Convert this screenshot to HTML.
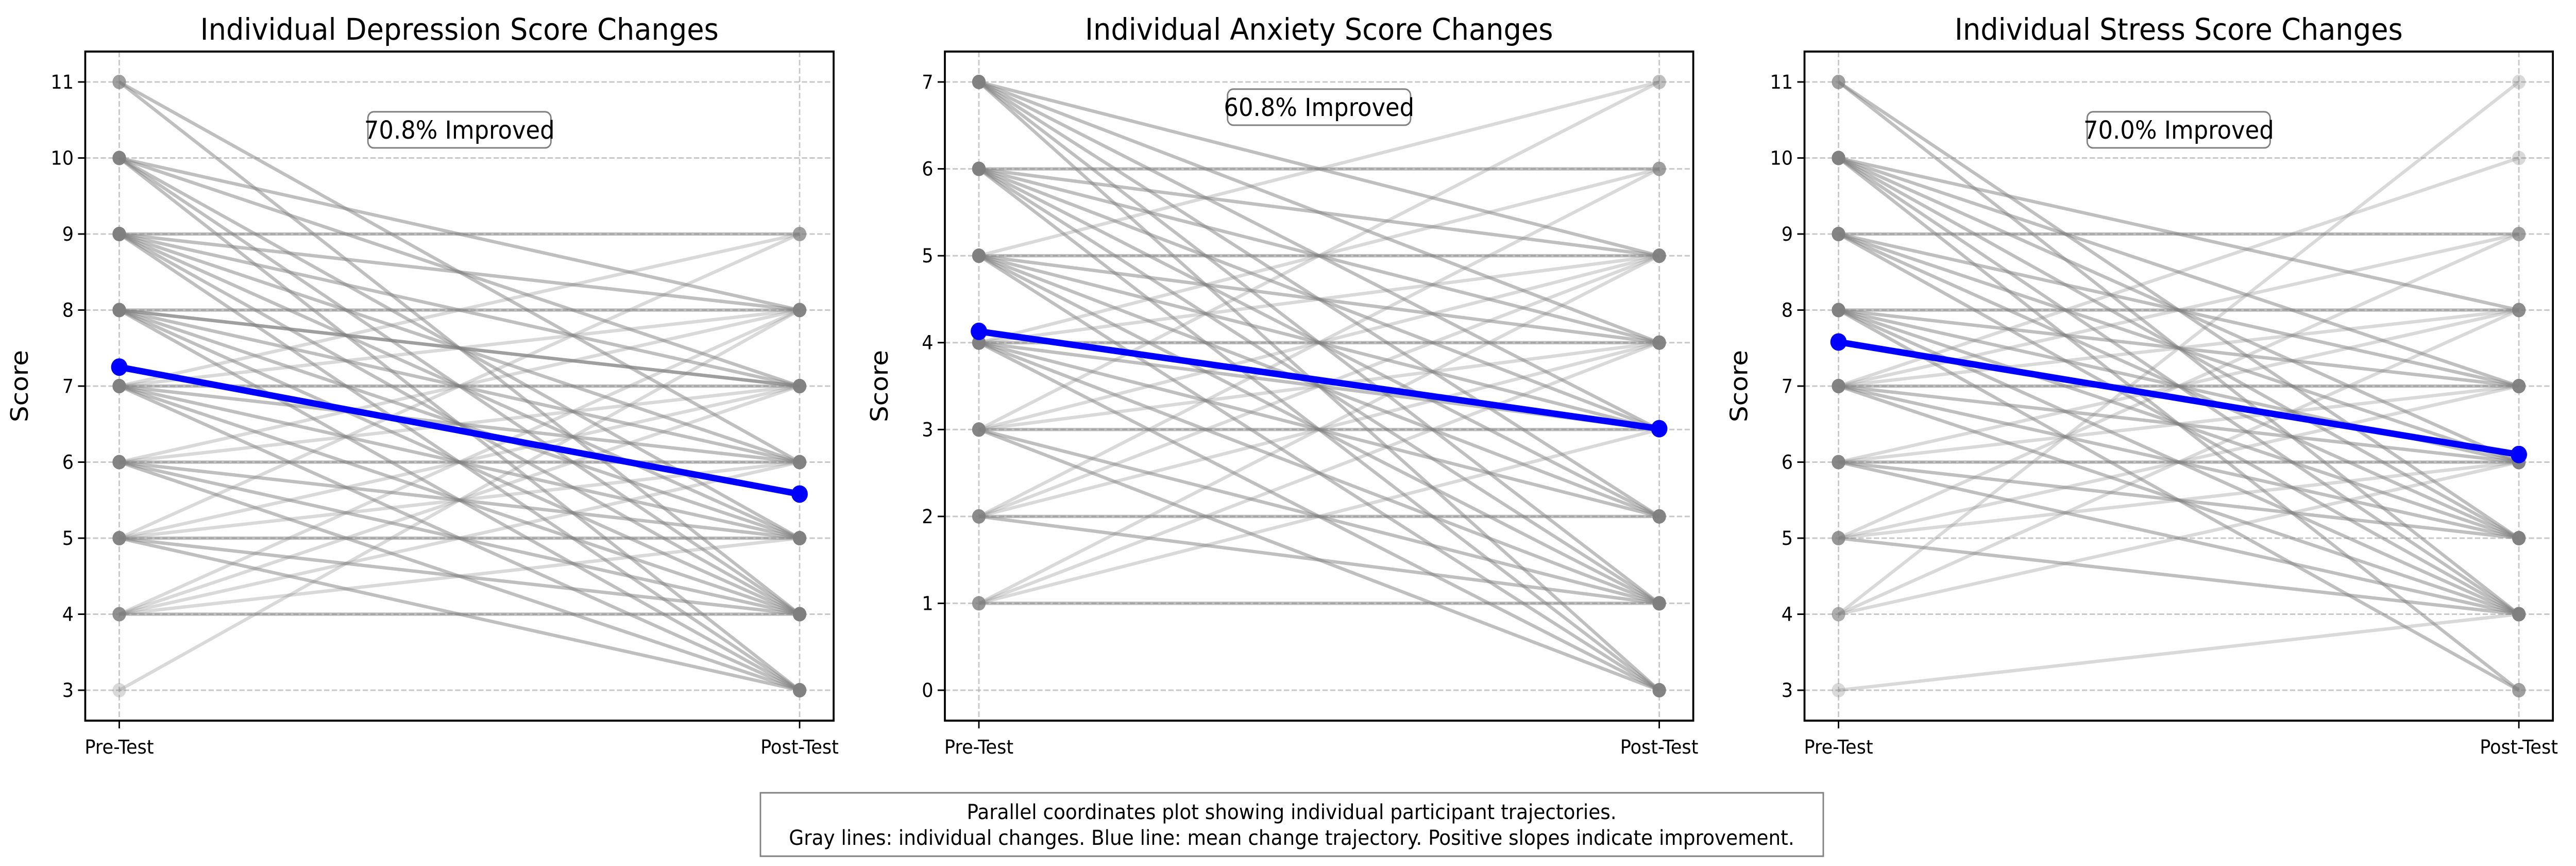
<!DOCTYPE html>
<html><head><meta charset="utf-8"><style>
html,body{margin:0;padding:0;background:#fff;width:100%;height:100%;overflow:hidden;}
svg{position:fixed;left:0;top:0;width:100vw;height:100vh;display:block;overflow:hidden;font-family:"DejaVu Sans","Liberation Sans",sans-serif;}
</style></head><body>
<svg id="chart" viewBox="0 0 5349 1680" preserveAspectRatio="none" xmlns="http://www.w3.org/2000/svg">
<g>
<rect x="1579" y="1538" width="2207" height="123" fill="#fff" stroke="#808080" stroke-width="3"/>
<text x="2682" y="1589" font-size="40" text-anchor="middle">Parallel coordinates plot showing individual participant trajectories.</text>
<text x="2682" y="1639" font-size="40" text-anchor="middle">Gray lines: individual changes. Blue line: mean change trajectory. Positive slopes indicate improvement.</text>
</g>
</svg>
<script>
// Depression
const depPre  = [11,11,10,10,10,10,10,9,9,9,9,9,9,9,8,8,8,8,8,8,8,7,7,7,7,7,7,7,6,6,6,6,6,6,5,5,5,5,5,5,4,4,4,4,4,3];
const depPost = [6,4,8,7,5,4,3,9,8,7,6,5,4,3,8,7,6,5,4,3,7,9,8,7,6,5,4,3,8,7,6,5,4,3,9,7,6,5,4,3,8,7,6,5,4,8];
const depMean = [7.25,5.58];
const depTicks = [3,4,5,6,7,8,9,10,11];
// Anxiety
const anxPre  = [7,7,7,7,7,7,6,6,6,6,6,6,6,5,5,5,5,5,5,5,4,4,4,4,4,4,4,3,3,3,3,3,3,2,2,2,2,2,1,1,1,1];
const anxPost = [5,4,3,2,1,0,6,5,4,3,2,1,0,7,5,4,3,2,1,0,6,5,4,3,2,1,0,7,5,4,3,1,0,6,5,4,2,1,5,4,3,1];
const anxMean = [4.13,3.01];
const anxTicks = [0,1,2,3,4,5,6,7];
// Stress
const strPre  = [11,11,10,10,10,10,10,10,9,9,9,9,9,8,8,8,8,8,8,7,7,7,7,7,7,7,6,6,6,6,6,5,5,5,5,4,4,4,3];
const strPost = [5,4,8,7,6,5,4,3,9,7,6,5,4,8,7,6,5,4,3,10,9,8,7,6,5,4,8,7,6,5,4,9,7,6,4,11,8,6,4];
const strMean = [7.58,6.10];
const strTicks = [3,4,5,6,7,8,9,10,11];
const improvedLabels = ["70.8% Improved","60.8% Improved","70.0% Improved"];
const titles = ["Individual Depression Score Changes","Individual Anxiety Score Changes","Individual Stress Score Changes"];
const xLabels = ["Pre-Test","Post-Test"];

(function(){
const NS="http://www.w3.org/2000/svg";
const svg=document.getElementById('chart');
function mk(tag,attrs,parent){const e=document.createElementNS(NS,tag);for(const k in attrs)e.setAttribute(k,attrs[k]);(parent||svg).appendChild(e);return e;}

const panels=[
 {left:177,pre:depPre,post:depPost,mean:depMean,ticks:depTicks,ymin:2.6,ymax:11.4,ann:10.37,name:'depression'},
 {left:1962,pre:anxPre,post:anxPost,mean:anxMean,ticks:anxTicks,ymin:-0.35,ymax:7.35,ann:6.71,name:'anxiety'},
 {left:3747,pre:strPre,post:strPost,mean:strMean,ticks:strTicks,ymin:2.6,ymax:11.4,ann:10.37,name:'stress'}
];
const W=1554,axTop=100,axBottom=1398;
panels.forEach((p,pi)=>{
 const g=mk('g',{});
 
 
 const xs=v=>p.left+(v+0.05)/1.1*W;
 const ys=v=>axBottom-(v-p.ymin)/(p.ymax-p.ymin)*(axBottom-axTop);
 p.ticks.forEach(t=>{
  const l=mk('line',{x1:p.left,x2:p.left+W,y1:ys(t),y2:ys(t),stroke:'#b0b0b0','stroke-opacity':0.7,'stroke-width':3,'stroke-dasharray':'11,5'},g);
  
  
 });
 [0,1].forEach(i=>{
  const l=mk('line',{x1:xs(i),x2:xs(i),y1:axTop,y2:axBottom,stroke:'#b0b0b0','stroke-opacity':0.7,'stroke-width':3,'stroke-dasharray':'11,5'},g);
  
  
 });
 p.pre.forEach((a,i)=>{
  const b=p.post[i];
  const op=b<=a?0.5:0.3;
  const l=mk('line',{x1:xs(0),y1:ys(a),x2:xs(1),y2:ys(b),stroke:'#808080','stroke-opacity':op,'stroke-width':6.5},g);
  
  
  [[0,a],[1,b]].forEach(([xx,yy])=>{
   const c=mk('circle',{cx:xs(xx),cy:ys(yy),r:14,fill:'#808080','fill-opacity':op},g);
   
   
  });
 });
 const ml=mk('line',{x1:xs(0),y1:ys(p.mean[0]),x2:xs(1),y2:ys(p.mean[1]),stroke:'#0000ff','stroke-width':12.5},g);
 
 
 [0,1].forEach(i=>{
  const c=mk('circle',{cx:xs(i),cy:ys(p.mean[i]),r:17,fill:'#0000ff'},g);
  
  
 });
 const fr=mk('rect',{x:p.left,y:axTop,width:W,height:axBottom-axTop,fill:'none',stroke:'#000','stroke-width':4},g);
 
 
 p.ticks.forEach(t=>{
  mk('line',{x1:p.left-15,x2:p.left,y1:ys(t),y2:ys(t),stroke:'#000','stroke-width':3},g);
  const tx=mk('text',{x:p.left-24,y:ys(t)+13,'font-size':37.5,'text-anchor':'end'},g);
  tx.textContent=t;
  
  
 });
 [0,1].forEach(i=>{
  mk('line',{x1:xs(i),x2:xs(i),y1:axBottom,y2:axBottom+15,stroke:'#000','stroke-width':3},g);
  const tx=mk('text',{x:xs(i),y:1462,'font-size':37.5,'text-anchor':'middle'},g);
  tx.textContent=xLabels[i];
  
  
 });
 const yl=mk('text',{x:0,y:0,'font-size':50,'text-anchor':'middle',transform:`translate(${p.left-119},${(axTop+axBottom)/2}) rotate(-90)`},g);
 yl.textContent='Score';
 
 
 const ti=mk('text',{x:p.left+W/2,y:77,'font-size':58,'text-anchor':'middle'},g);
 ti.textContent=titles[pi];
 
 
 const cx=p.left+W/2, cy=ys(p.ann);
 const ab=mk('rect',{x:cx-190,y:cy-35,width:380,height:70,rx:12,fill:'#fff','fill-opacity':0.85,stroke:'#808080','stroke-width':3},g);
 
 
 const at=mk('text',{x:cx,y:cy+17,'font-size':48,'text-anchor':'middle'},g);
 at.textContent=improvedLabels[pi];
 
 
});
})();
</script>
</body></html>
